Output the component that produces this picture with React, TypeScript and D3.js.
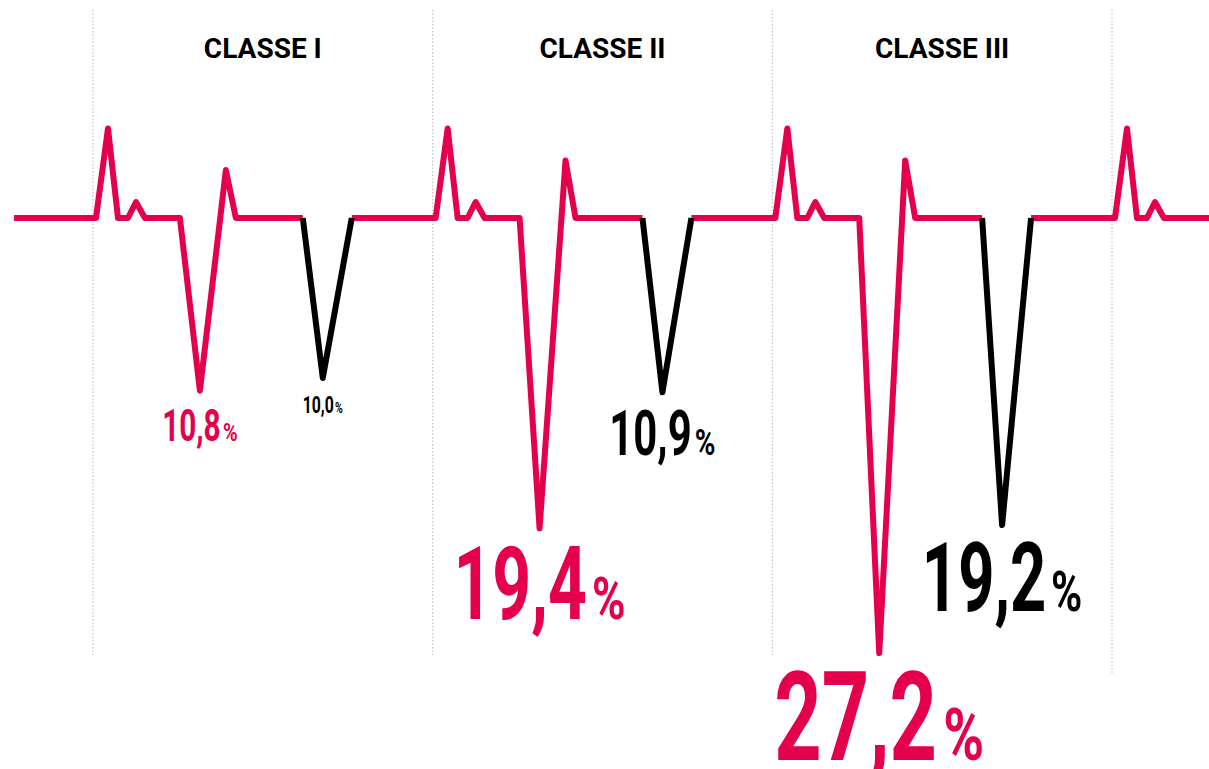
import React from "react";
import * as d3 from "d3";

// ---- data ----
const classes = ["CLASSE I", "CLASSE II", "CLASSE III"];
const redValues = [10.8, 19.4, 27.2];
const blackValues = [10.0, 10.9, 19.2];

// ---- styles ----
const RED = "#e4004b";
const BLACK = "#000000";
const W = 1209;
const H = 769;
const labelCap = { red: [32, 73, 89], black: [17, 45, 68] };
const secondPeak = [3.0, 3.6, 3.6]; // decorative ECG wave heights (value units)
const spikeHeight = 5.6;
const bumpHeight = 1.0;

const fmt = (v: number) => v.toFixed(1).replace(".", ",");

export default function App() {
  const colX = d3.scaleLinear().domain([0, 3]).range([93, 1112]);
  const colW = colX(1) - colX(0);
  const u = d3.scaleLinear().domain([0, 340]).range([0, colW]);
  const y = d3.scaleLinear().domain([0, 27.2]).range([218, 653]);
  const X = (i: number, off: number) => colX(i) + u(off);

  type P = [number, number];
  const redSegs: P[][] = [];
  const blackSegs: P[][] = [];
  let cur: P[] = [[X(0, -79), y(0)]];
  const head = (i: number): P[] => [
    [X(i, 3), y(0)],
    [X(i, 15), y(-spikeHeight)],
    [X(i, 25), y(0)],
    [X(i, 35), y(0)],
    [X(i, 43), y(-bumpHeight)],
    [X(i, 52), y(0)],
  ];
  classes.forEach((_, i) => {
    cur.push(...head(i));
    cur.push(
      [X(i, 87), y(0)],
      [X(i, 107), y(redValues[i])],
      [X(i, 133), y(-secondPeak[i])],
      [X(i, 143), y(0)],
      [X(i, 210), y(0)]
    );
    redSegs.push(cur);
    blackSegs.push([
      [X(i, 210), y(0)],
      [X(i, 230), y(blackValues[i])],
      [X(i, 259), y(0)],
    ]);
    cur = [[X(i, 259), y(0)]];
  });
  cur.push(...head(3));
  cur.push([W, y(0)]);
  redSegs.push(cur);

  const line = d3.line<P>().x((d) => d[0]).y((d) => d[1]);

  const label = (v: number, cx: number, vy: number, cap: number, color: string, key: string) => {
    const digitsW = cap * 1.83;
    const pctW = cap * 0.46;
    const gap = cap * 0.07;
    const total = digitsW + gap + pctW;
    const left = cx - total / 2;
    const top = vy + 3 + 15;
    const base = top + cap;
    const fs = cap / 0.711;
    const pfs = (cap * 0.58) / 0.711;
    return (
      <g key={key} fill={color} fontFamily="Roboto, 'Open Sans', sans-serif" fontWeight={700}>
        <text x={left} y={base} fontSize={fs} textLength={digitsW} lengthAdjust="spacingAndGlyphs">
          {fmt(v)}
        </text>
        <text
          x={left + digitsW + gap}
          y={base}
          fontSize={pfs}
          textLength={pctW}
          lengthAdjust="spacingAndGlyphs"
        >
          %
        </text>
      </g>
    );
  };

  return (
    <svg
      width={W}
      height={H}
      style={{ position: "absolute", left: 0, top: 0, background: "#fff" }}
    >
      {d3.range(4).map((i) => (
        <line
          key={"g" + i}
          x1={colX(i)}
          x2={colX(i)}
          y1={10}
          y2={i === 3 ? 675 : 655}
          stroke="#b8b8b8"
          strokeWidth={1}
          strokeDasharray="1.5,2"
        />
      ))}
      {classes.map((c, i) => (
        <text
          key={c}
          x={(colX(i) + colX(i + 1)) / 2}
          y={58}
          textAnchor="middle"
          fontFamily="Roboto, sans-serif"
          fontWeight={700}
          fontSize={28}
          fill="#000"
        >
          {c}
        </text>
      ))}
      {redSegs.map((s, k) => (
        <path key={"r" + k} d={line(s) || ""} fill="none" stroke={RED} strokeWidth={6} strokeLinejoin="round" />
      ))}
      {blackSegs.map((s, k) => (
        <path key={"b" + k} d={line(s) || ""} fill="none" stroke={BLACK} strokeWidth={6} strokeLinejoin="round" />
      ))}
      {classes.map((_, i) =>
        label(redValues[i], X(i, 107), y(redValues[i]), labelCap.red[i], RED, "lr" + i)
      )}
      {classes.map((_, i) =>
        label(blackValues[i], X(i, 230), y(blackValues[i]), labelCap.black[i], BLACK, "lb" + i)
      )}
    </svg>
  );
}
